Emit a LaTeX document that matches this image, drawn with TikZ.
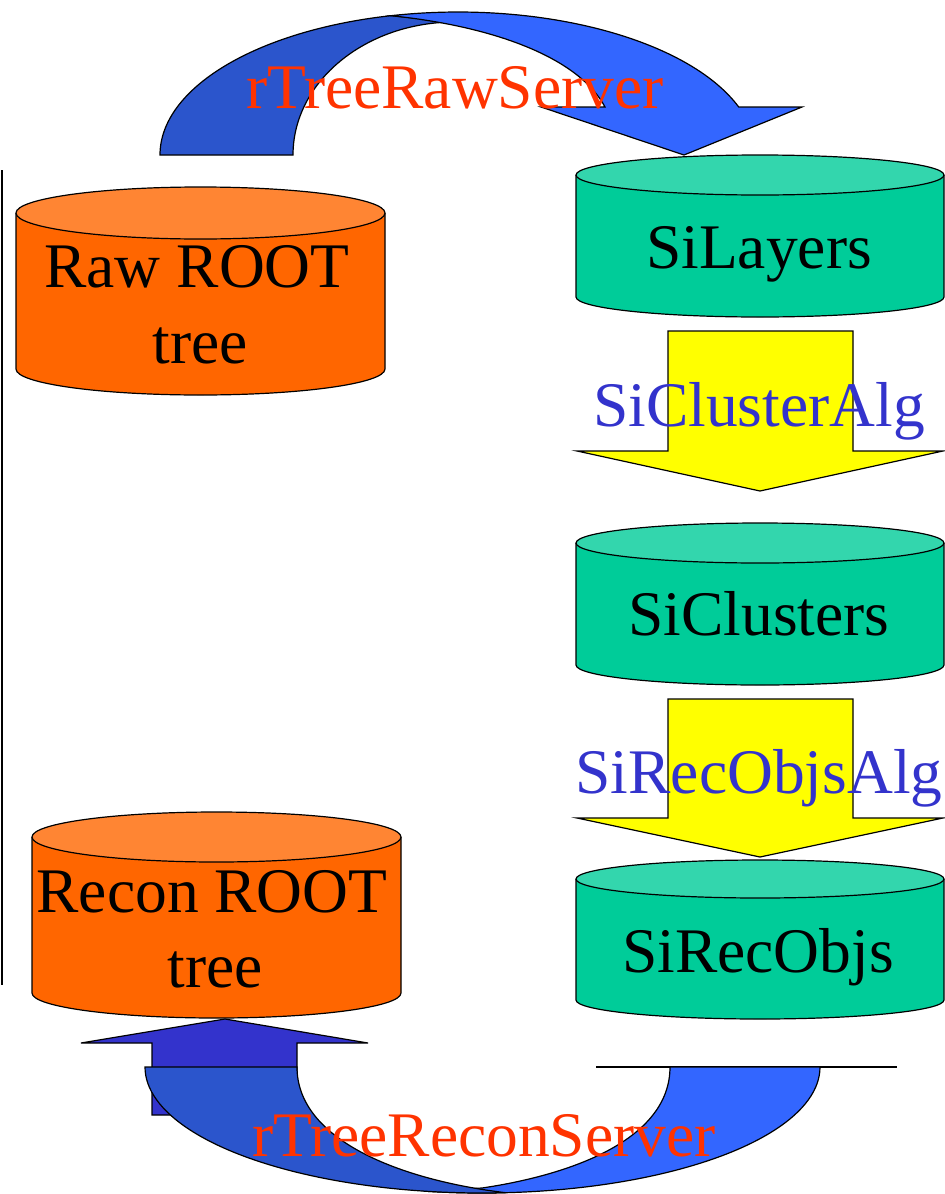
\documentclass[tikz,border=0pt]{standalone}
\usepackage{fontspec}
\setmainfont{Liberation Serif}
\definecolor{orbody}{HTML}{FF6600}
\definecolor{ortop}{HTML}{FF8533}
\definecolor{grbody}{HTML}{00CC99}
\definecolor{grtop}{HTML}{33D6AD}
\definecolor{darkband}{HTML}{2B55CC}
\definecolor{lightband}{HTML}{3366FF}
\definecolor{uparrow}{HTML}{3333CC}
\definecolor{redtxt}{HTML}{FF3300}
\definecolor{bluetxt}{HTML}{3333CC}
\definecolor{yel}{HTML}{FFFF00}
\newcommand\drawcyl[7]{%
  \fill[#6] (#1,#3) -- (#1,#4) arc[start angle=180,end angle=0,x radius={(#2-#1)/2},y radius=#5] -- (#2,#3) -- cycle;
  \draw[outl] (#1,#3) -- (#1,#4) arc[start angle=180,end angle=0,x radius={(#2-#1)/2},y radius=#5] -- (#2,#3);
  \draw[outl,fill=#7] ({(#1+#2)/2},#3) ellipse[x radius={(#2-#1)/2},y radius=#5];
}
\begin{document}
\begin{tikzpicture}[x=1pt,y=-1pt,
  outl/.style={draw=black,line width=1.2pt,line join=miter},
  lbl/.style={inner sep=0pt,anchor=base,font=\fontsize{63.5}{76}\selectfont}]
\useasboundingbox (0,0) rectangle (945,1194);

% left vertical line
\coordinate (vl1) at (1.5,170);
\coordinate (vl2) at (1.5,985);
\draw[line width=2pt] (vl1) -- (vl2);

% top curved arrow
\path[outl,fill=darkband] (160,155) arc[start angle=180,end angle=257,x radius=298,y radius=143]
   -- (455,22) arc[start angle=270,end angle=180,x radius=162,y radius=133] -- cycle;
\path[outl,fill=lightband] (391,15.7) arc[start angle=257,end angle=340.4,x radius=298,y radius=143]
   -- (802,107) -- (684,155) -- (541,107) -- (605,107)
   .. controls (580,60) and (500,27) .. (391,15.7) -- cycle;

% yellow arrows
\path[outl,fill=yel] (668,331) -- (853,331) -- (853,451) -- (943,451) -- (760,491) -- (577,451) -- (668,451) -- cycle;
\path[outl,fill=yel] (668,699) -- (853,699) -- (853,818) -- (943,818) -- (760,857) -- (577,818) -- (668,818) -- cycle;

% bottom arrow
\path[outl,fill=uparrow] (152,1115) -- (152,1043) -- (81,1043) -- (225,1019) -- (368,1043) -- (297,1043) -- (297,1115) -- cycle;
\coordinate (bl1) at (596,1067);
\coordinate (bl2) at (897,1067);
\draw[outl] (bl1) -- (bl2);
\path[outl,fill=lightband] (820,1067) arc[start angle=0,end angle=100,x radius=338,y radius=126]
   -- (482,1188) .. controls (570,1175) and (670,1140) .. (670,1067) -- cycle;
\path[outl,fill=darkband] (145,1067) arc[start angle=180,end angle=86,x radius=337,y radius=126]
   .. controls (400,1180) and (297,1140) .. (297,1067) -- cycle;

% cylinders
\drawcyl{16}{385}{213}{369}{26}{orbody}{ortop}
\drawcyl{32}{401}{837}{993}{25}{orbody}{ortop}
\drawcyl{576}{944}{175}{297}{20}{grbody}{grtop}
\drawcyl{576}{944}{543}{665}{20}{grbody}{grtop}
\drawcyl{576}{944}{879}{1000}{19}{grbody}{grtop}

% labels
\node[lbl] (raw1) at (197,287) {Raw ROOT};
\node[lbl] (raw2) at (200,363) {tree};
\node[lbl] (rec1) at (212,912) {Recon ROOT};
\node[lbl] (rec2) at (215,987) {tree};
\node[lbl] (sil) at (759,268) {SiLayers};
\node[lbl] (sic) at (759,635) {SiClusters};
\node[lbl] (sir) at (758,972) {SiRecObjs};
\node[lbl,text=bluetxt] (alg1) at (759,426) {SiClusterAlg};
\node[lbl,text=bluetxt] (alg2) at (759,793) {SiRecObjsAlg};
\node[lbl,text=redtxt] (srv1) at (455,108) {rTreeRawServer};
\node[lbl,text=redtxt] (srv2) at (484,1156) {rTreeReconServer};
\end{tikzpicture}
\end{document}
